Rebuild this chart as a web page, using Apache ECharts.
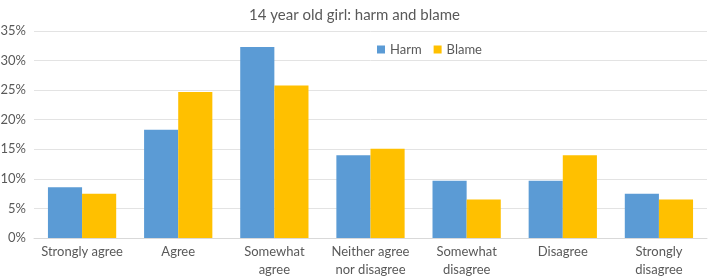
<!DOCTYPE html>
<html>
<head>
<meta charset="utf-8">
<script src="https://cdn.jsdelivr.net/npm/echarts@6/dist/echarts.min.js"></script>
<style>
  html, body { margin: 0; padding: 0; background: #fff; }
  #chart { width: 709px; height: 279px; }
</style>
</head>
<body>
<div id="chart"></div>
<script>
// answer categories (x axis)
const categories = ['Strongly agree', 'Agree', 'Somewhat\nagree', 'Neither agree\nnor disagree', 'Somewhat\ndisagree', 'Disagree', 'Strongly\ndisagree'];
// percent of respondents
const harm = [8.6, 18.3, 32.3, 14.0, 9.7, 9.7, 7.5];
const blame = [7.5, 24.7, 25.8, 15.1, 6.5, 14.0, 6.5];
const yTicks = [0, 5, 10, 15, 20, 25, 30, 35];

const txt = '#595959';
const font = 'Lato, "Open Sans", sans-serif';

const chart = echarts.init(document.getElementById('chart'));
chart.setOption({
  animation: false,
  textStyle: { fontFamily: font },
  title: {
    text: '14 year old girl: harm and blame',
    left: 'center',
    top: 3,
    textStyle: { color: txt, fontSize: 15, fontWeight: 'normal', fontFamily: font }
  },
  legend: {
    top: 38,
    left: 372,
    itemWidth: 8,
    itemHeight: 8,
    itemGap: 12,
    icon: 'rect',
    textStyle: { color: txt, fontSize: 13, fontFamily: font },
    data: ['Harm', 'Blame']
  },
  grid: { left: 34, right: 2, top: 31, bottom: 41, outerBoundsMode: 'none' },
  xAxis: {
    type: 'category',
    data: categories,
    axisTick: { show: false },
    axisLine: { lineStyle: { color: '#d9d9d9' } },
    axisLabel: { color: txt, fontSize: 13, lineHeight: 18, margin: 5, interval: 0, fontFamily: font }
  },
  yAxis: {
    type: 'value',
    min: yTicks[0],
    max: yTicks[yTicks.length - 1],
    interval: 5,
    axisLine: { show: false },
    axisTick: { show: false },
    splitLine: { lineStyle: { color: '#e3e3e3' } },
    axisLabel: { color: txt, fontSize: 13, margin: 8, formatter: '{value}%', fontFamily: font }
  },
  series: [
    { name: 'Harm', type: 'bar', data: harm, itemStyle: { color: '#5b9bd5' }, barGap: '0%', barCategoryGap: '29%' },
    { name: 'Blame', type: 'bar', data: blame, itemStyle: { color: '#ffc000' }, barGap: '0%', barCategoryGap: '29%' }
  ]
});
</script>
</body>
</html>
